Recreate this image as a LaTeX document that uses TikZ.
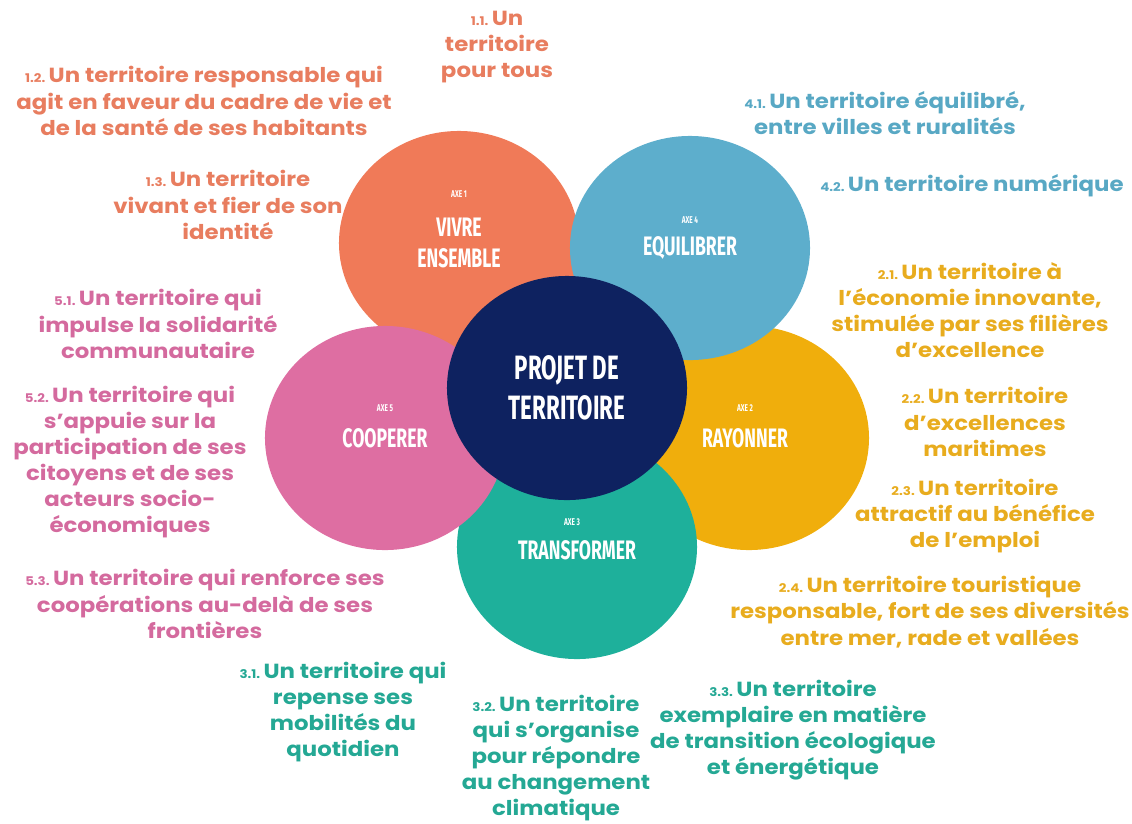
\documentclass[tikz,border=0pt]{standalone}
\usepackage{fontspec}
\setmainfont{Poppins}
\newfontfamily\lblfont[FakeStretch=1.12]{Poppins}
\newfontfamily\axefont[FakeStretch=0.66]{Fira Sans}
\usetikzlibrary{shapes.geometric}

\definecolor{vivre}{RGB}{240,122,88}
\definecolor{equil}{RGB}{93,174,204}
\definecolor{rayon}{RGB}{240,174,12}
\definecolor{transf}{RGB}{30,176,155}
\definecolor{coop}{RGB}{222,110,162}
\definecolor{projet}{RGB}{14,34,96}
\definecolor{vivretxt}{RGB}{232,125,95}
\definecolor{equiltxt}{RGB}{88,168,196}
\definecolor{rayontxt}{RGB}{232,172,30}
\definecolor{transftxt}{RGB}{36,168,148}
\definecolor{cooptxt}{RGB}{212,106,158}

\newcommand{\pfx}[1]{{\fontsize{8.5}{8.5}\selectfont #1}\,}

\begin{document}
\begin{tikzpicture}
  [x=0.025cm, y=-0.025cm,
   petal/.style={ellipse,minimum width=6cm,minimum height=5.6cm,inner sep=0pt},
   axesmall/.style={text=white,font=\axefont\bfseries\fontsize{7}{8}\selectfont},
   axename/.style={text=white,font=\axefont\bfseries\fontsize{19}{22}\selectfont},
   bigname/.style={text=white,font=\axefont\bfseries\fontsize{24}{27}\selectfont},
   lbl/.style={align=center,font=\lblfont\bfseries\fontsize{14.5}{18.6}\selectfont}]
  \useasboundingbox (0,0) rectangle (1132,823);
  % petals, back to front
  \node at (459,243) (vivre) [petal,fill=vivre] {};
  \node at (749,438) (rayon) [petal,fill=rayon] {};
  \node at (577,547) (transf) [petal,fill=transf] {};
  \node at (385,438) (coop) [petal,fill=coop] {};
  \node at (690,248) (equil) [petal,fill=equil] {};
  \node at (567,388) (centre) [petal,fill=projet] {};
  % texts in the petals
  \node at (459,194) (vivre-axe) [axesmall] {AXE 1};
  \node at (459,227) (vivre-a) [axename] {VIVRE};
  \node at (459,258) (vivre-b) [axename] {ENSEMBLE};
  \node at (690,220) (equil-axe) [axesmall] {AXE 4};
  \node at (690,248) (equil-a) [axename] {EQUILIBRER};
  \node at (745,408) (rayon-axe) [axesmall] {AXE 2};
  \node at (745,438) (rayon-a) [axename] {RAYONNER};
  \node at (572,522) (transf-axe) [axesmall] {AXE 3};
  \node at (577,550) (transf-a) [axename] {TRANSFORMER};
  \node at (385,408) (coop-axe) [axesmall] {AXE 5};
  \node at (385,438) (coop-a) [axename] {COOPERER};
  \node at (567,370) (centre-a) [bigname] {PROJET DE};
  \node at (567,408) (centre-b) [bigname] {TERRITOIRE};
  % axe 1
  \node at (497,47) (t11) [lbl,text=vivretxt] {\pfx{1.1.}Un\\territoire\\pour tous};
  \node at (204,101) (t12) [lbl,text=vivretxt] {\pfx{1.2.}Un territoire responsable qui\\agit en faveur du cadre de vie et\\de la santé de ses habitants};
  \node at (228,205) (t13) [lbl,text=vivretxt] {\pfx{1.3.}Un territoire\\vivant et fier de son\\identité};
  % axe 4
  \node at (885,113) (t41) [lbl,text=equiltxt] {\pfx{4.1.}Un territoire équilibré,\\entre villes et ruralités};
  \node at (972,186) (t42) [lbl,text=equiltxt] {\pfx{4.2.}Un territoire numérique};
  % axe 2
  \node at (970,310) (t21) [lbl,text=rayontxt] {\pfx{2.1.}Un territoire à\\l’économie innovante,\\stimulée par ses filières\\d’excellence};
  \node at (985,422) (t22) [lbl,text=rayontxt] {\pfx{2.2.}Un territoire\\d’excellences\\maritimes};
  \node at (975,516) (t23) [lbl,text=rayontxt] {\pfx{2.3.}Un territoire\\attractif au bénéfice\\de l’emploi};
  \node at (930,612) (t24) [lbl,text=rayontxt] {\pfx{2.4.}Un territoire touristique\\responsable, fort de ses diversités\\entre mer, rade et vallées};
  % axe 5
  \node at (158,324) (t51) [lbl,text=cooptxt] {\pfx{5.1.}Un territoire qui\\impulse la solidarité\\communautaire};
  \node at (130,462) (t52) [lbl,text=cooptxt] {\pfx{5.2.}Un territoire qui\\s’appuie sur la\\participation de ses\\citoyens et de ses\\acteurs socio-\\économiques};
  \node at (205,604) (t53) [lbl,text=cooptxt] {\pfx{5.3.}Un territoire qui renforce ses\\coopérations au-delà de ses\\frontières};
  % axe 3
  \node at (343,712) (t31) [lbl,text=transftxt] {\pfx{3.1.}Un territoire qui\\repense ses\\mobilités du\\quotidien};
  \node at (556,758) (t32) [lbl,text=transftxt] {\pfx{3.2.}Un territoire\\qui s’organise\\pour répondre\\au changement\\climatique};
  \node at (793,730) (t33) [lbl,text=transftxt] {\pfx{3.3.}Un territoire\\exemplaire en matière\\de transition écologique\\et énergétique};
\end{tikzpicture}
\end{document}
